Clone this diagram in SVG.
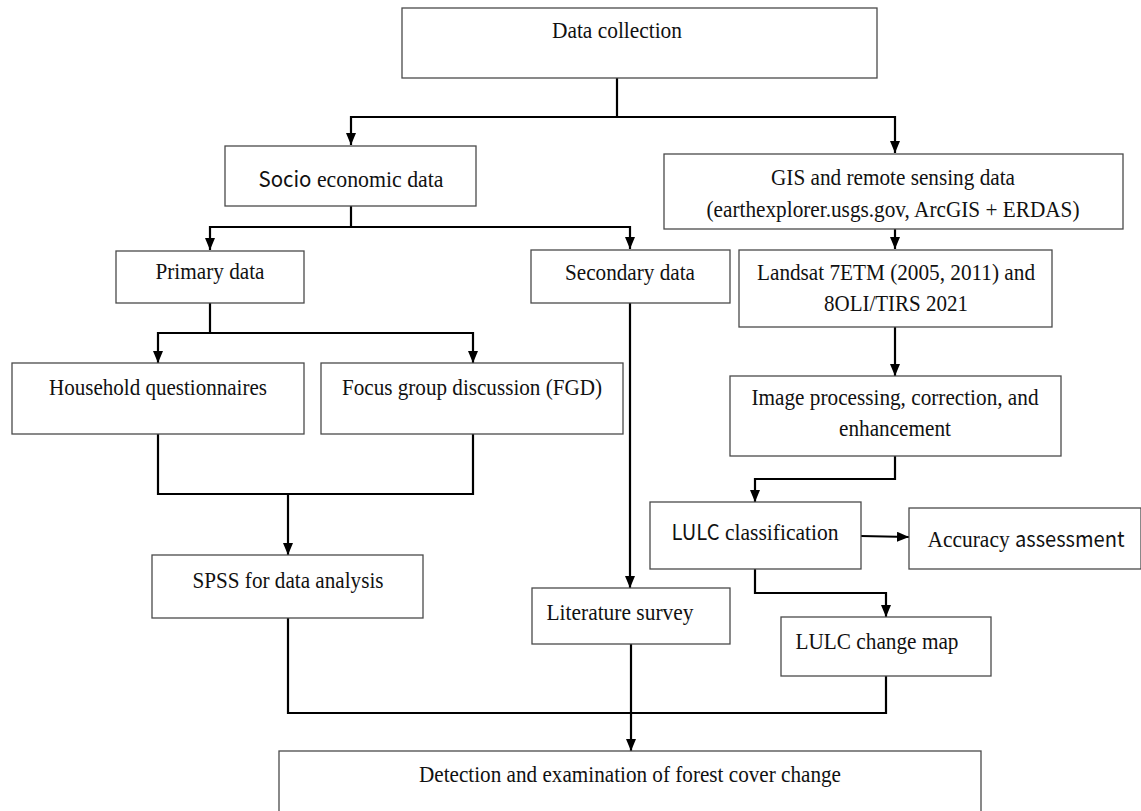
<svg xmlns="http://www.w3.org/2000/svg" width="1141" height="811" viewBox="0 0 1141 811">
<style>
.box{fill:#fff;stroke:#4a4a4a;stroke-width:1.3}
.t{font-family:"Liberation Serif","Times New Roman",serif;font-size:23.5px;fill:#111;text-anchor:middle}
.s{font-family:"Noto Sans CJK KR","Noto Sans",sans-serif;font-size:22px}
.c{fill:none;stroke:#000;stroke-width:2.2}
</style>
<defs>
<marker id="ah" markerUnits="userSpaceOnUse" markerWidth="12" markerHeight="10" refX="12" refY="5" orient="auto">
<path d="M0,0 L12,5 L0,10 z" fill="#000"/>
</marker>
</defs>
<rect width="1141" height="811" fill="#fff"/>
<g id="connectors">
<path class="c" d="M617,78 V117 H351 V145" marker-end="url(#ah)"/>
<path class="c" d="M617,117 H895 V153" marker-end="url(#ah)"/>
<path class="c" d="M351,206 V227 H210 V250" marker-end="url(#ah)"/>
<path class="c" d="M351,227 H630 V249" marker-end="url(#ah)"/>
<path class="c" d="M895,229 V249" marker-end="url(#ah)"/>
<path class="c" d="M210,303 V333 H158 V363" marker-end="url(#ah)"/>
<path class="c" d="M210,333 H473 V363" marker-end="url(#ah)"/>
<path class="c" d="M630,303 V588" marker-end="url(#ah)"/>
<path class="c" d="M895,327 V376" marker-end="url(#ah)"/>
<path class="c" d="M158,434 V494 H473 V434"/>
<path class="c" d="M288,494 V555" marker-end="url(#ah)"/>
<path class="c" d="M895,456 V479 H755 V502" marker-end="url(#ah)"/>
<path class="c" d="M861,536 L909,537" marker-end="url(#ah)"/>
<path class="c" d="M755,569 V593 H886 V617" marker-end="url(#ah)"/>
<path class="c" d="M288,618 V713 H886 V676"/>
<path class="c" d="M631,644 V751" marker-end="url(#ah)"/>
</g>
<g id="data-collection"><rect class="box" x="402" y="8" width="475" height="70"/><text class="t" x="617" y="38" textLength="130" lengthAdjust="spacingAndGlyphs">Data collection</text></g>
<g id="socio"><rect class="box" x="225" y="146" width="251" height="60"/><text class="t" x="351" y="187" textLength="185" lengthAdjust="spacingAndGlyphs"><tspan class="s">Socio</tspan> economic data</text></g>
<g id="gis"><rect class="box" x="664" y="154" width="459" height="75"/><text class="t" x="893" y="185" textLength="244" lengthAdjust="spacingAndGlyphs">GIS and remote sensing data</text><text class="t" x="893" y="217" textLength="373" lengthAdjust="spacingAndGlyphs">(earthexplorer.usgs.gov, ArcGIS + ERDAS)</text></g>
<g id="primary"><rect class="box" x="116" y="251" width="188" height="52"/><text class="t" x="210" y="279" textLength="109" lengthAdjust="spacingAndGlyphs">Primary data</text></g>
<g id="secondary"><rect class="box" x="531" y="250" width="199" height="53"/><text class="t" x="630" y="280" textLength="130" lengthAdjust="spacingAndGlyphs">Secondary data</text></g>
<g id="landsat"><rect class="box" x="739" y="250" width="313" height="77"/><text class="t" x="896" y="280" textLength="278" lengthAdjust="spacingAndGlyphs">Landsat 7ETM (2005, 2011) and</text><text class="t" x="896" y="311" textLength="144" lengthAdjust="spacingAndGlyphs">8OLI/TIRS 2021</text></g>
<g id="household"><rect class="box" x="12" y="363" width="292" height="71"/><text class="t" x="158" y="395" textLength="218" lengthAdjust="spacingAndGlyphs">Household questionnaires</text></g>
<g id="fgd"><rect class="box" x="321" y="363" width="302" height="71"/><text class="t" x="472" y="395" textLength="260" lengthAdjust="spacingAndGlyphs">Focus group discussion (FGD)</text></g>
<g id="image-processing"><rect class="box" x="730" y="376" width="331" height="80"/><text class="t" x="895" y="405" textLength="287" lengthAdjust="spacingAndGlyphs">Image processing, correction, and</text><text class="t" x="895" y="436" textLength="112" lengthAdjust="spacingAndGlyphs">enhancement</text></g>
<g id="spss"><rect class="box" x="152" y="555" width="271" height="63"/><text class="t" x="288" y="588" textLength="191" lengthAdjust="spacingAndGlyphs">SPSS for data analysis</text></g>
<g id="lulc-classification"><rect class="box" x="650" y="502" width="211" height="67"/><text class="t" x="755" y="540" textLength="167" lengthAdjust="spacingAndGlyphs"><tspan class="s">LULC</tspan> classification</text></g>
<g id="accuracy"><rect class="box" x="909" y="508" width="232" height="61"/><text class="t" x="1026" y="547" textLength="197" lengthAdjust="spacingAndGlyphs">Accuracy <tspan class="s">assessment</tspan></text></g>
<g id="literature"><rect class="box" x="532" y="588" width="198" height="56"/><text class="t" x="620" y="620" textLength="147" lengthAdjust="spacingAndGlyphs">Literature survey</text></g>
<g id="change-map"><rect class="box" x="781" y="617" width="210" height="59"/><text class="t" x="877" y="649" textLength="163" lengthAdjust="spacingAndGlyphs">LULC change map</text></g>
<g id="detection"><rect class="box" x="279" y="751" width="702" height="70"/><text class="t" x="630" y="782" textLength="422" lengthAdjust="spacingAndGlyphs">Detection and examination of forest cover change</text></g>
</svg>
